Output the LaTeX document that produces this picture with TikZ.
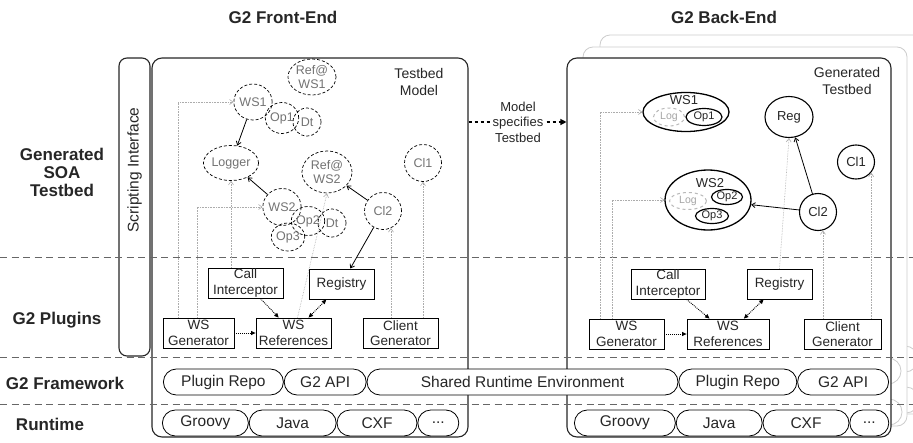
\documentclass[tikz,border=0pt]{standalone}
\usepackage{fontspec}
\setmainfont{Liberation Sans}
\usetikzlibrary{positioning, arrows.meta, shapes.geometric}

\begin{document}
\begin{tikzpicture}[
  x=1pt, y=-1pt,
  >={Straight Barb[length=3.5pt, width=5pt]},
  every node/.style={inner sep=0pt, text=black!85},
  ttl/.style    = {font=\fontsize{17}{18}\selectfont\bfseries, align=center},
  endbox/.style = {draw=black!85, line width=1.1pt, rounded corners=10pt, fill=white},
  ghost/.style  = {draw=gray!40, line width=0.8pt, rounded corners=10pt, fill=white},
  tier/.style   = {draw=black!60, line width=1pt, dash pattern=on 7pt off 4.5pt},
  mdl/.style    = {ellipse, draw, densely dashed, line width=0.7pt, text=black!55, align=center,
                   font=\fontsize{12.5}{13.5}\selectfont},
  inst/.style   = {ellipse, draw, line width=1.3pt, font=\fontsize{13}{14}\selectfont},
  op/.style     = {ellipse, draw, line width=1.2pt, font=\fontsize{11}{12}\selectfont},
  lg/.style     = {ellipse, draw=gray!55, dashed, line width=1pt, text=gray!70, font=\fontsize{10.5}{12}\selectfont},
  plug/.style   = {draw, line width=0.8pt, align=center, minimum height=30pt, font=\fontsize{13.5}{15.5}\selectfont},
  pill/.style   = {draw, line width=0.8pt, fill=white, rounded corners=13pt, minimum height=26pt,
                   font=\fontsize{15.5}{17}\selectfont},
  sol/.style    = {->, line width=0.8pt},
  gdot/.style   = {->, densely dotted, draw=gray!65, line width=0.6pt},
  dep/.style    = {-{Triangle[length=4.5pt, width=4pt]}, densely dotted, line width=0.9pt},
  dep2/.style   = {{Triangle[length=4.5pt, width=4pt]}-{Triangle[length=4.5pt, width=4pt]}, densely dotted, line width=0.9pt},
]
  \useasboundingbox (0,0) rectangle (913,442);

  % stacked copies behind the generated testbed
  \foreach \dx/\dy in {33/-23, 16/-11} {
    \draw[ghost] (567+\dx,58+\dy) rectangle (891+\dx,437+\dy);
    \node[pill, draw=gray!40, minimum width=91pt] (gapi-\dx) at (839.5+\dx,382+\dy) {};
    \node[pill, draw=gray!40, minimum width=39pt] (gdots-\dx) at (866.5+\dx,423+\dy) {};
  }

  % front-end, back-end and scripting frames
  \node[endbox, minimum width=316pt, minimum height=379pt] (fe) at (310,247.5) {};
  \node[endbox, minimum width=324pt, minimum height=379pt] (be) at (729,247.5) {};
  \node[endbox, rounded corners=8pt, minimum width=31pt, minimum height=298pt] (sif) at (134.5,207) {};
  \node[rotate=90, font=\fontsize{15.5}{17}\selectfont] (sift) at (134.5,170) {Scripting Interface};

  \foreach \y in {257, 357, 404}
    \draw[tier] (0,\y) -- (913,\y);

  % titles and layers
  \node[ttl] (tfe)  at (283,17)  {G2 Front-End};
  \node[ttl] (tbe)  at (724,17)  {G2 Back-End};
  \node[ttl] (lsoa) at (62,172)  {Generated\\SOA\\Testbed};
  \node[ttl] (lplg) at (57,320)  {G2 Plugins};
  \node[ttl] (lfwk) at (65,383)  {G2 Framework};
  \node[ttl] (lrun) at (50,424)  {Runtime};

  % testbed model
  \node[align=center, font=\fontsize{14}{17}\selectfont] (tbm) at (419,82) {Testbed\\Model};
  \node[mdl, minimum width=48pt, minimum height=36pt] (refa) at (312,77)  {Ref@\\WS1};
  \node[mdl, minimum size=36pt]                         (wsa)  at (253,102) {WS1};
  \node[mdl, minimum size=31pt]                         (opa)  at (282,118) {Op1};
  \node[mdl, minimum size=28pt]                         (dta)  at (307,122) {Dt};
  \node[mdl, minimum width=48pt, minimum height=35pt] (lgr)  at (231,163) {Logger};
  \node[mdl, minimum width=50pt, minimum height=42pt] (refb) at (327,172) {Ref@\\WS2};
  \node[mdl, minimum size=37pt]                         (wsb)  at (282,207) {WS2};
  \node[mdl, minimum size=29pt]                         (opb)  at (308,221) {Op2};
  \node[mdl, minimum size=28pt]                         (dtb)  at (332,223) {Dt};
  \node[mdl, minimum size=28pt]                         (opc)  at (288,237) {Op3};
  \node[mdl, minimum size=37pt]                         (cl2a) at (383,211) {Cl2};
  \node[mdl, minimum size=37pt]                         (cl1a) at (423,163) {Cl1};

  % front-end plugins
  \node[plug, minimum width=71pt]               (wsga) at (198.5,333) {WS\\Generator};
  \node[plug, minimum width=75pt]               (cia)  at (245.5,283) {Call\\Interceptor};
  \node[plug, minimum width=65pt, line width=1pt] (rga) at (341.5,284) {Registry};
  \node[plug, minimum width=75pt]               (wsra) at (293.5,333) {WS\\References};
  \node[plug, minimum width=75pt]               (cga)  at (400.5,333) {Client\\Generator};

  \draw[gdot] ([xshift=-20.5pt]wsga.north) |- (wsa.west);
  \draw[gdot] ([xshift=-1.5pt]wsga.north) |- (wsb.west);
  \draw[gdot] (cia.north -| lgr.south) -- (lgr.south);
  \draw[gdot] ([xshift=4pt]wsra.north) -- (refb.south);
  \draw[gdot] (cl2a.-65 |- cga.north) -- (cl2a.-65);
  \draw[gdot] (cl1a.south |- cga.north) -- (cl1a.south);

  \foreach \a/\b in {wsa/lgr, wsb/lgr, cl2a/refb, cl2a/rga}
    \draw[sol] (\a) -- (\b);
  \draw[dep]  (wsga) -- (wsra);
  \draw[dep]  (cia) -- (wsra);
  \draw[dep2] (rga) -- (wsra);

  % model specifies testbed
  \coordinate (spec) at (518,122);
  \draw[dashed, line width=1.2pt, -{Triangle[length=6pt, width=6pt]}] (fe.east |- spec) -- (be.west |- spec);
  \node[fill=white, inner sep=1pt, align=center, font=\fontsize{13}{15.5}\selectfont] (mst) at (spec) {Model\\specifies\\Testbed};

  % generated testbed
  \node[align=center, font=\fontsize{14}{17}\selectfont] (gtb) at (847,81) {Generated\\Testbed};
  \node[inst, minimum width=86pt, minimum height=39pt] (wsc)  at (686,112) {};
  \node[font=\fontsize{13}{14}\selectfont]               (wsct) at (684,100) {WS1};
  \node[lg, minimum width=31pt, minimum height=18pt]   (lgc)  at (669,117) {Log};
  \node[op, minimum width=36pt, minimum height=17pt]   (opd)  at (704,117) {Op1};
  \node[inst, line width=1.1pt, minimum width=48pt, minimum height=41pt] (regb) at (789,117) {Reg};
  \node[inst, line width=1.1pt, minimum width=37pt, minimum height=34pt] (cl1b) at (856,162) {Cl1};
  \node[inst, minimum width=86pt, minimum height=60pt] (ws2b) at (708,200) {};
  \node[font=\fontsize{13}{14}\selectfont]               (ws2t) at (710,183) {WS2};
  \node[lg, minimum width=37pt, minimum height=17pt]   (lgd)  at (688,201) {Log};
  \node[op, minimum width=31pt, minimum height=15pt]   (ope)  at (727,197) {Op2};
  \node[op, minimum width=33pt, minimum height=15pt]   (opf)  at (712,216) {Op3};
  \node[inst, line width=1.1pt, minimum size=37pt]     (cl2b) at (818,212) {Cl2};

  % back-end plugins
  \node[plug, minimum width=75pt] (wsgb) at (626.5,334) {WS\\Generator};
  \node[plug, minimum width=74pt] (cib)  at (668,284)   {Call\\Interceptor};
  \node[plug, minimum width=65pt] (rgb)  at (779.5,284) {Registry};
  \node[plug, minimum width=82pt] (wsrb) at (728,334)   {WS\\References};
  \node[plug, minimum width=77pt] (cgb)  at (842.5,334) {Client\\Generator};

  \draw[gdot] ([xshift=-26.5pt]wsgb.north) |- (wsc.west);
  \draw[gdot] ([xshift=-14.5pt]wsgb.north) |- (ws2b.west);
  \draw[gdot] (rgb.north) -- (regb.south);
  \draw[gdot] (cl2b.-75 |- cgb.north) -- (cl2b.-75);
  \draw[gdot] (cl1b.-35 |- cgb.north) -- (cl1b.-35);

  \foreach \a/\b in {cl2b/regb, cl2b/ws2b}
    \draw[sol] (\a) -- (\b);
  \draw[dep]  (wsgb) -- (wsrb);
  \draw[dep]  (cib) -- (wsrb);
  \draw[dep2] (rgb) -- (wsrb);

  % framework and runtime rows
  \node[pill, minimum width=120pt, anchor=west] (prpa) at (163,382) {Plugin Repo};
  \node[pill, minimum width=82pt,  right=0pt of prpa] (apia) {G2 API};
  \node[pill, minimum width=311pt, right=0pt of apia] (sre)  {Shared Runtime Environment};
  \node[pill, minimum width=118pt, right=0pt of sre]  (prpb) {Plugin Repo};
  \node[pill, minimum width=91pt,  right=0pt of prpb] (apib) {G2 API};

  \node[pill, minimum width=86pt, anchor=west] (grva) at (162,423) {Groovy};
  \node[pill, minimum width=87pt, right=0pt of grva] (jvaa) {Java};
  \node[pill, minimum width=80pt, right=0pt of jvaa] (cxfa) {CXF};
  \node[pill, minimum width=41pt, right=0pt of cxfa] (etca) {...};

  \node[pill, minimum width=101pt, anchor=west] (grvb) at (574,423) {Groovy};
  \node[pill, minimum width=86pt, right=0pt of grvb] (jvab) {Java};
  \node[pill, minimum width=86pt, right=0pt of jvab] (cxfb) {CXF};
  \node[pill, minimum width=39pt, right=0pt of cxfb] (etcb) {...};
\end{tikzpicture}
\end{document}
